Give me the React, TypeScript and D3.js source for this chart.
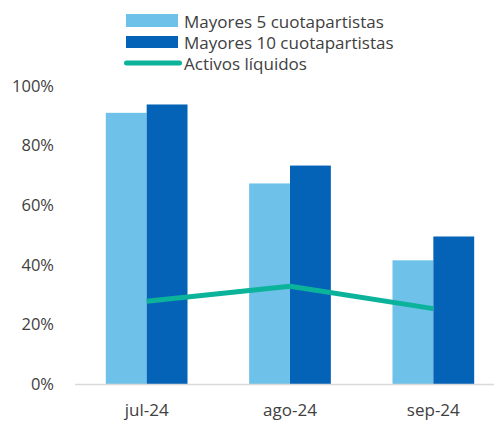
import React from "react";
import * as d3 from "d3";

const categories = ["jul-24", "ago-24", "sep-24"];
const mayores5 = [0.91, 0.673, 0.415];
const mayores10 = [0.938, 0.733, 0.495];
const activosLiquidos = [0.278, 0.328, 0.253];
const yTicks = [0, 0.2, 0.4, 0.6, 0.8, 1.0];
const seriesNames = ["Mayores 5 cuotapartistas", "Mayores 10 cuotapartistas", "Activos líquidos"];

const W = 494;
const H = 421;
const C_LIGHT = "#6EC1E9";
const C_DARK = "#0563B7";
const C_LINE = "#0BB39A";
const FONT = "'Open Sans', 'Noto Sans', sans-serif";

export default function App() {
  const left = 75;
  const right = 505;
  const y = d3.scaleLinear().domain([0, 1]).range([384, 86]);
  const x = d3.scaleBand().domain(categories).range([left, right]).paddingInner(0.43).paddingOuter(0.215);
  const inner = d3.scaleBand().domain(["a", "b"]).range([0, x.bandwidth()]);
  const lineGen = d3
    .line<number>()
    .x((_, i) => (x(categories[i]) as number) + x.bandwidth() / 2)
    .y((d) => y(d));

  return (
    <svg width={W} height={H} style={{ position: "absolute", left: 0, top: 0 }} fontFamily={FONT}>
      <rect width={W} height={H} fill="#fff" />
      {categories.map((c, i) => (
        <g key={c}>
          <rect x={(x(c) as number) + (inner("a") as number)} y={y(mayores5[i])} width={inner.bandwidth()} height={y(0) - y(mayores5[i])} fill={C_LIGHT} />
          <rect x={(x(c) as number) + (inner("b") as number)} y={y(mayores10[i])} width={inner.bandwidth()} height={y(0) - y(mayores10[i])} fill={C_DARK} />
        </g>
      ))}
      <line x1={left} x2={W} y1={y(0) + 0.5} y2={y(0) + 0.5} stroke="#D9D9D9" strokeWidth={1.5} />
      <path d={lineGen(activosLiquidos) || ""} fill="none" stroke={C_LINE} strokeWidth={5} strokeLinejoin="round" />
      {yTicks.map((t) => (
        <text key={t} x={54} y={y(t)} dy="0.35em" textAnchor="end" fontSize={16.5} fill="#404040">
          {d3.format(".0%")(t)}
        </text>
      ))}
      {categories.map((c) => (
        <text key={c} x={(x(c) as number) + x.bandwidth() / 2} y={416} textAnchor="middle" fontSize={17} fill="#404040">
          {c}
        </text>
      ))}
      <g>
        <rect x={126} y={14} width={52} height={13} fill={C_LIGHT} />
        <text x={184} y={27.5} fontSize={17} fill="#404040">{seriesNames[0]}</text>
        <rect x={126} y={36} width={52} height={12} fill={C_DARK} />
        <text x={184} y={48.5} fontSize={17} fill="#404040">{seriesNames[1]}</text>
        <line x1={126.5} x2={179.5} y1={63} y2={63} stroke={C_LINE} strokeWidth={5} strokeLinecap="round" />
        <text x={184} y={69.5} fontSize={17} fill="#404040">{seriesNames[2]}</text>
      </g>
    </svg>
  );
}
